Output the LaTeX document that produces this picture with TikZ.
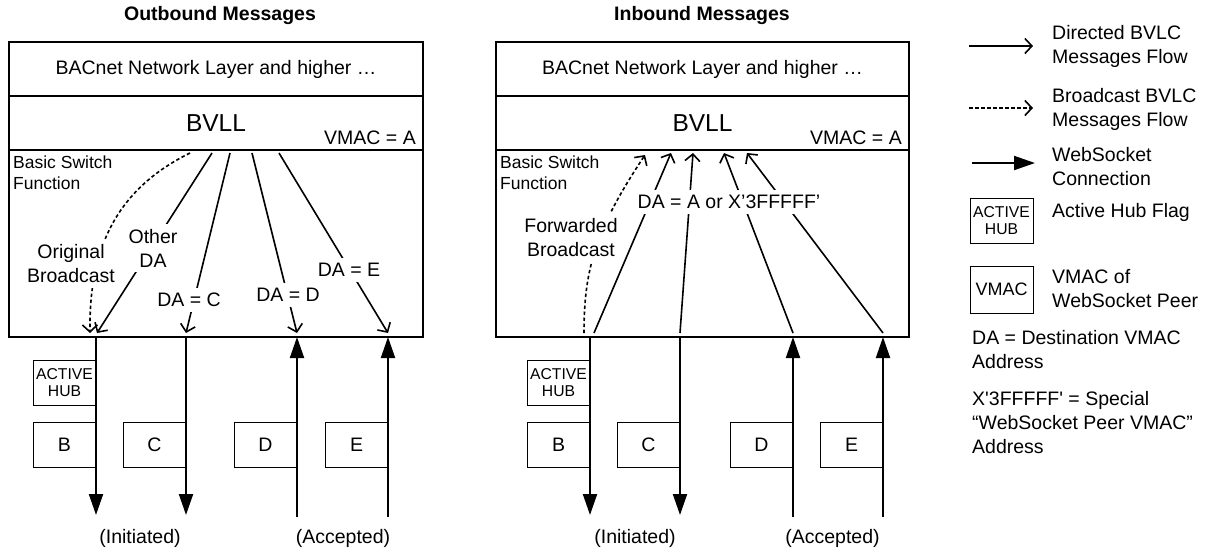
\documentclass[tikz,border=0pt]{standalone}
\usepackage{fontspec}
\setmainfont{Liberation Sans}
\usetikzlibrary{arrows.meta}

\newcommand\hubfnt{\fontsize{15.7}{16.7}\selectfont}

\begin{document}
\begin{tikzpicture}[x=1pt,y=-1pt,
  every node/.style={font=\fontsize{19.5}{24}\selectfont, inner sep=0pt},
  title/.style={font=\fontsize{19.5}{24}\selectfont\bfseries},
  layer/.style={draw, line width=1.2pt, minimum height=54pt},
  switchbox/.style={draw, line width=1.2pt, minimum height=187pt},
  peer/.style={draw, line width=1pt, minimum width=63pt, minimum height=45pt, align=center},
  hub/.style={peer, font=\hubfnt},
  msg/.style={line width=1.6pt, -{Straight Barb[length=7pt,width=15pt]}},
  bcast/.style={msg, dash pattern=on 3.5pt off 2.5pt},
  ws/.style={line width=2pt, -{Triangle[length=21pt,width=14pt]}},
  lbl/.style={fill=white, inner sep=5pt, align=center},
  note/.style={align=left, anchor=west}
]
\useasboundingbox (0,0) rectangle (1210,550);

% ---------------- Outbound side ----------------
\node[title] (tOut) at (220,15) {Outbound Messages};
\node[layer, minimum width=414pt] (netL) at (216,69) {BACnet Network Layer and higher …};
\node[layer, minimum width=414pt, font=\fontsize{24.5}{28}\selectfont] (bvllL) at (216,123) {BVLL};
\node[switchbox, minimum width=414pt] (swL) at (216,243.5) {};
\node[anchor=east] (vmacL) at (416,138) {VMAC = A};
\node[note, font=\fontsize{17.5}{21}\selectfont] (bsfL) at (13,172.5) {Basic Switch\\Function};

% message flows from the BVLL down to the peers
\coordinate (oS0) at (190,153); \coordinate (oT0) at (90,333);
\coordinate (oS1) at (212,153); \coordinate (oT1) at (97,333);
\coordinate (oS2) at (230,153); \coordinate (oT2) at (186,333);
\coordinate (oS3) at (252,153); \coordinate (oT3) at (297,333);
\coordinate (oS4) at (279,153); \coordinate (oT4) at (388,333);
\draw[bcast] (oS0) .. controls (115,190) and (89,250) .. (oT0);
\draw[msg] (oS1) -- (oT1);
\draw[msg] (oS2) -- (oT2);
\draw[msg] (oS3) -- (oT3);
\draw[msg] (oS4) -- (oT4);
\node[lbl] (lOrig) at (71,264) {Original\\Broadcast};
\node[lbl] (lOther) at (153,248) {Other\\DA};
\node[lbl] (lC) at (189,300) {DA = C};
\node[lbl] (lD) at (288,295) {DA = D};
\node[lbl] (lE) at (349,270) {DA = E};

% WebSocket peers
\node[hub] (hubL) at (64.5,382.5) {ACTIVE\\HUB};
\node[peer] (pBL) at (64.5,444.5) {B};
\node[peer] (pCL) at (154.5,444.5) {C};
\node[peer] (pDL) at (265.5,444.5) {D};
\node[peer] (pEL) at (356.5,444.5) {E};
\coordinate (wBLt) at (96,337);  \coordinate (wBLb) at (96,515);
\coordinate (wCLt) at (186,337); \coordinate (wCLb) at (186,515);
\coordinate (wDLt) at (297,337); \coordinate (wDLb) at (297,517);
\coordinate (wELt) at (388,337); \coordinate (wELb) at (388,517);
\draw[ws] (wBLt) -- (wBLb);
\draw[ws] (wCLt) -- (wCLb);
\draw[ws] (wDLb) -- (wDLt);
\draw[ws] (wELb) -- (wELt);
\node (iniL) at (140,538) {(Initiated)};
\node (accL) at (343,538) {(Accepted)};

% ---------------- Inbound side ----------------
\node[title] (tIn) at (702,15) {Inbound Messages};
\node[layer, minimum width=413pt] (netR) at (702.5,69) {BACnet Network Layer and higher …};
\node[layer, minimum width=413pt, font=\fontsize{24.5}{28}\selectfont] (bvllR) at (702.5,123) {BVLL};
\node[switchbox, minimum width=413pt] (swR) at (702.5,243.5) {};
\node[anchor=east] (vmacR) at (902,138) {VMAC = A};
\node[note, font=\fontsize{17.5}{21}\selectfont] (bsfR) at (500,172.5) {Basic Switch\\Function};

% message flows from the peers up to the BVLL
\coordinate (iS0) at (584,333); \coordinate (iT0) at (645,155);
\coordinate (iS1) at (594,333); \coordinate (iT1) at (671,153);
\coordinate (iS2) at (680,333); \coordinate (iT2) at (693,153);
\coordinate (iS3) at (793,333); \coordinate (iT3) at (724,153);
\coordinate (iS4) at (883,333); \coordinate (iT4) at (747,153);
\draw[bcast] (iS0) .. controls (584,270) and (595,230) .. (iT0);
\draw[msg] (iS1) -- (iT1);
\draw[msg] (iS2) -- (iT2);
\draw[msg] (iS3) -- (iT3);
\draw[msg] (iS4) -- (iT4);
\node[lbl] (lFwd) at (571,237.5) {Forwarded\\Broadcast};
\node[lbl] (lDA) at (729,202) {DA = A or X’3FFFFF’};

% WebSocket peers
\node[hub] (hubR) at (558.5,382.5) {ACTIVE\\HUB};
\node[peer] (pBR) at (558.5,444.5) {B};
\node[peer] (pCR) at (648.5,444.5) {C};
\node[peer] (pDR) at (761.5,444.5) {D};
\node[peer] (pER) at (851.5,444.5) {E};
\coordinate (wBRt) at (590,337); \coordinate (wBRb) at (590,515);
\coordinate (wCRt) at (680,337); \coordinate (wCRb) at (680,515);
\coordinate (wDRt) at (793,337); \coordinate (wDRb) at (793,517);
\coordinate (wERt) at (883,337); \coordinate (wERb) at (883,517);
\draw[ws] (wBRt) -- (wBRb);
\draw[ws] (wCRt) -- (wCRb);
\draw[ws] (wDRb) -- (wDRt);
\draw[ws] (wERb) -- (wERt);
\node (iniR) at (635,538) {(Initiated)};
\node (accR) at (832.5,538) {(Accepted)};

% ---------------- Legend ----------------
\coordinate (k1a) at (969,46);  \coordinate (k1b) at (1033,46);
\coordinate (k2a) at (969,108); \coordinate (k2b) at (1033,108);
\coordinate (k3a) at (972,163); \coordinate (k3b) at (1035,163);
\draw[msg] (k1a) -- (k1b);
\draw[bcast] (k2a) -- (k2b);
\draw[ws] (k3a) -- (k3b);
\node[note] (t1) at (1052,46) {Directed BVLC\\Messages Flow};
\node[note] (t2) at (1052,109.5) {Broadcast BVLC\\Messages Flow};
\node[note] (t3) at (1052,166.5) {WebSocket\\Connection};
\node[hub] (kHub) at (1001.5,220.5) {ACTIVE\\HUB};
\node[note] (t4) at (1052,212) {Active Hub Flag};
\node[peer, font=\fontsize{18}{20}\selectfont, minimum height=47pt] (kVmac) at (1001.5,289.5) {VMAC};
\node[note] (t5) at (1052,288.5) {VMAC of\\WebSocket Peer};
\node[note] (t6) at (972,350) {DA = Destination VMAC\\Address};
\node[note] (t7) at (972,423) {X\textquotesingle 3FFFFF\textquotesingle{} = Special\\“WebSocket Peer VMAC”\\Address};
\end{tikzpicture}
\end{document}
